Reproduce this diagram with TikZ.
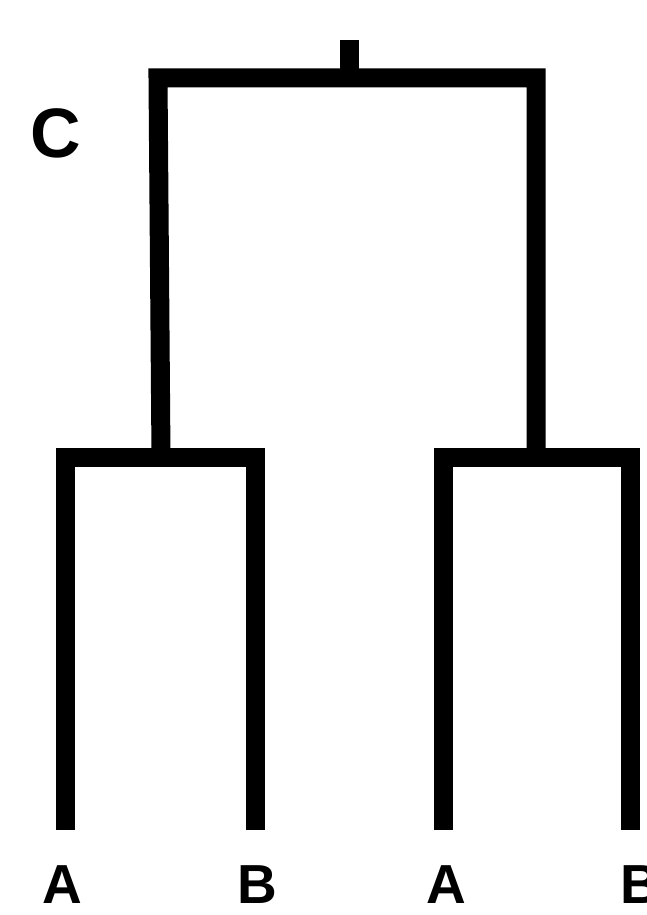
\documentclass[tikz,border=0pt]{standalone}
\usepackage{fontspec}
\setmainfont{Liberation Sans}
\begin{document}
\begin{tikzpicture}[x=1pt,y=-1pt,
  branch/.style={line width=19pt,line cap=butt,line join=miter,black},
  leaflabel/.style={font=\fontsize{55}{57}\selectfont\bfseries,inner sep=0pt,anchor=center}]
\useasboundingbox (0,0) rectangle (646,915);
% root stub and top bar
\coordinate (root) at (349,40);
\coordinate (top) at (349,78);
\coordinate (L) at (158,78);
\coordinate (R) at (536,78);
\coordinate (Lj) at (161,457);
\coordinate (Rj) at (536,457);
% subtree bars and leaves
\coordinate (a1t) at (65,457);
\coordinate (a1b) at (65,830);
\coordinate (b1t) at (255,457);
\coordinate (b1b) at (255,830);
\coordinate (a2t) at (443,457);
\coordinate (a2b) at (443,830);
\coordinate (b2t) at (630,457);
\coordinate (b2b) at (630,830);
\draw[branch] (root) -- (top);
\draw[branch] (Lj) -- (L) -- (R) -- (Rj);
\draw[branch] (a1b) -- (a1t) -- (b1t) -- (b1b);
\draw[branch] (a2b) -- (a2t) -- (b2t) -- (b2b);
% labels
\node[leaflabel] (la1) at (62,885) {A};
\node[leaflabel] (lb1) at (257,885) {B};
\node[leaflabel] (la2) at (446,885) {A};
\node[leaflabel] (lb2) at (640,885) {B};
\node[font=\fontsize{70}{72}\selectfont\bfseries,inner sep=0pt] (c) at (56,133) {C};
\end{tikzpicture}
\end{document}
